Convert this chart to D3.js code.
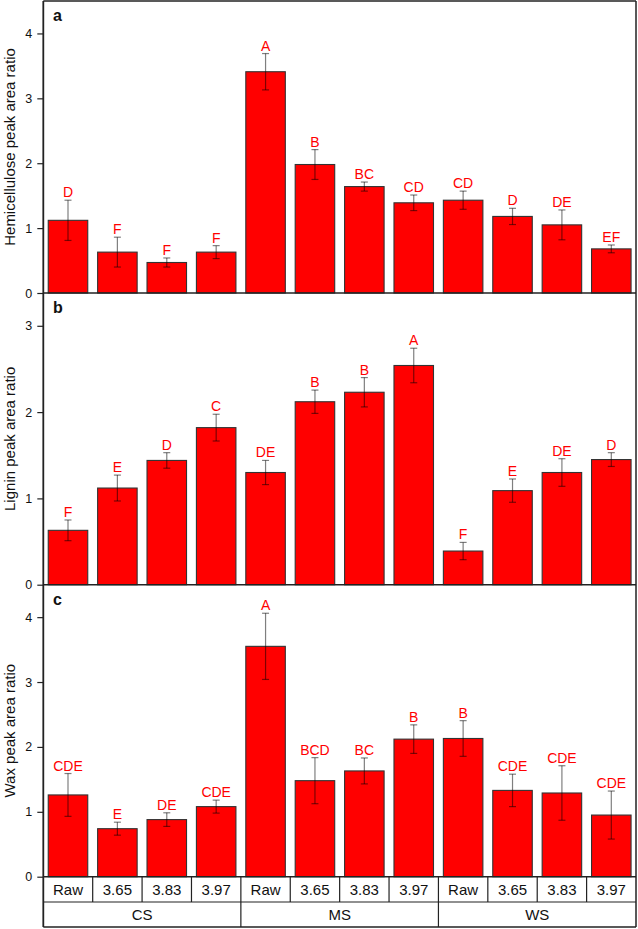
<!DOCTYPE html>
<html><head><meta charset="utf-8">
<script src="https://cdn.jsdelivr.net/npm/d3@7"></script>
<style>html,body{margin:0;padding:0;background:#fff;}svg{display:block;font-family:"Liberation Sans",Arial,sans-serif;}</style>
</head><body><svg id="c" width="638" height="929"></svg>
<script>
const categories = ["Raw","3.65","3.83","3.97","Raw","3.65","3.83","3.97","Raw","3.65","3.83","3.97"];
const groups = ["CS","MS","WS"];

const hemi = [1.12,0.63,0.47,0.63,3.41,1.98,1.64,1.39,1.43,1.18,1.05,0.68];
const hemiErr = [0.31,0.23,0.07,0.10,0.28,0.23,0.07,0.12,0.14,0.125,0.23,0.06];
const hemiLetters = ["D","F","F","F","A","B","BC","CD","CD","D","DE","EF"];

const lignin = [0.63,1.12,1.44,1.82,1.30,2.12,2.23,2.54,0.39,1.09,1.30,1.45];
const ligninErr = [0.12,0.15,0.09,0.155,0.14,0.135,0.17,0.20,0.10,0.135,0.16,0.08];
const ligninLetters = ["F","E","D","C","DE","B","B","A","F","E","DE","D"];

const wax = [1.26,0.74,0.88,1.08,3.55,1.48,1.63,2.12,2.13,1.33,1.29,0.95];
const waxErr = [0.33,0.10,0.105,0.10,0.51,0.355,0.20,0.22,0.275,0.25,0.42,0.37];
const waxLetters = ["CDE","E","DE","CDE","A","BCD","BC","B","B","CDE","CDE","CDE"];

const panels = [
  {tag:"a", title:"Hemicellulose peak area ratio", vals:hemi, err:hemiErr, letters:hemiLetters, max:4.5, ticks:[0,1,2,3,4], top:1, bottom:293},
  {tag:"b", title:"Lignin peak area ratio", vals:lignin, err:ligninErr, letters:ligninLetters, max:3.38, ticks:[0,1,2,3], top:293, bottom:584.7},
  {tag:"c", title:"Wax peak area ratio", vals:wax, err:waxErr, letters:waxLetters, max:4.5, ticks:[0,1,2,3,4], top:584.7, bottom:876.7}
];

const svg = d3.select("#c");
const L = 43.3, R = 636;
const idx = d3.range(categories.length);
const x = d3.scaleBand().domain(idx).range([L,R]).paddingInner(0.2).paddingOuter(0.1);
const xc = d3.scaleBand().domain(idx).range([L,R]).padding(0);
const xg = d3.scaleBand().domain(groups).range([L,R]).padding(0);
const stroke = "#222";

panels.forEach(p => {
  const y = d3.scaleLinear().domain([0,p.max]).range([p.bottom,p.top]);
  const g = svg.append("g");
  g.selectAll("rect.bar").data(p.vals).join("rect")
    .attr("x",(d,i)=>x(i)).attr("width",x.bandwidth())
    .attr("y",d=>y(d)).attr("height",d=>y(0)-y(d))
    .attr("fill","#ff0000").attr("stroke","#333").attr("stroke-width",1.1);
  const eb = g.selectAll("g.err").data(p.vals).join("g")
    .attr("stroke","#000").attr("stroke-opacity",0.5).attr("stroke-width",1.2);
  eb.append("line").attr("x1",(d,i)=>x(i)+x.bandwidth()/2).attr("x2",(d,i)=>x(i)+x.bandwidth()/2)
    .attr("y1",(d,i)=>y(d+p.err[i])).attr("y2",(d,i)=>y(d-p.err[i]));
  eb.append("line").attr("x1",(d,i)=>x(i)+x.bandwidth()/2-3.5).attr("x2",(d,i)=>x(i)+x.bandwidth()/2+3.5)
    .attr("y1",(d,i)=>y(d+p.err[i])).attr("y2",(d,i)=>y(d+p.err[i]));
  eb.append("line").attr("x1",(d,i)=>x(i)+x.bandwidth()/2-3.5).attr("x2",(d,i)=>x(i)+x.bandwidth()/2+3.5)
    .attr("y1",(d,i)=>y(d-p.err[i])).attr("y2",(d,i)=>y(d-p.err[i]));
  g.selectAll("text.let").data(p.letters).join("text")
    .attr("x",(d,i)=>x(i)+x.bandwidth()/2).attr("y",(d,i)=>y(p.vals[i]+p.err[i])-3)
    .attr("text-anchor","middle").attr("font-size",14).attr("fill","#ff0000").text(d=>d);
  const ax = g.append("g").attr("transform",`translate(${L},0)`)
    .call(d3.axisLeft(y).tickValues(p.ticks).tickFormat(d3.format("d")).tickSize(6).tickPadding(5));
  ax.select(".domain").remove();
  ax.selectAll("line").attr("stroke",stroke).attr("stroke-width",1.2);
  ax.selectAll("text").attr("font-size",12.5).attr("fill","#111").attr("font-family","Liberation Sans, Arial, sans-serif");
  g.append("text").attr("transform",`translate(15,${(p.top+p.bottom)/2}) rotate(-90)`)
    .attr("text-anchor","middle").attr("font-size",15).attr("fill","#111").text(p.title);
  g.append("text").attr("x",53).attr("y",p.top+20).attr("font-size",16).attr("font-weight","bold").attr("fill","#111").text(p.tag);
  g.append("line").attr("x1",L).attr("x2",R).attr("y1",p.bottom).attr("y2",p.bottom).attr("stroke",stroke).attr("stroke-width",1.5);
});

// category rows
const r1 = 876.7, r2 = 902, r3 = 927;
svg.append("line").attr("x1",L).attr("x2",R).attr("y1",r2).attr("y2",r2).attr("stroke",stroke).attr("stroke-width",1.2);
svg.append("line").attr("x1",L).attr("x2",R).attr("y1",r3).attr("y2",r3).attr("stroke",stroke).attr("stroke-width",1.5);
svg.selectAll("line.csep").data(idx.slice(1)).join("line")
  .attr("x1",d=>xc(d)).attr("x2",d=>xc(d)).attr("y1",r1).attr("y2",r2).attr("stroke",stroke).attr("stroke-width",1.2);
svg.selectAll("line.gsep").data(groups.slice(1)).join("line")
  .attr("x1",d=>xg(d)).attr("x2",d=>xg(d)).attr("y1",r2).attr("y2",r3).attr("stroke",stroke).attr("stroke-width",1.2);
svg.selectAll("text.cat").data(categories).join("text")
  .attr("x",(d,i)=>xc(i)+xc.bandwidth()/2).attr("y",r1+18.5).attr("text-anchor","middle")
  .attr("font-size",15).attr("fill","#111").text(d=>d);
svg.selectAll("text.grp").data(groups).join("text")
  .attr("x",d=>xg(d)+xg.bandwidth()/2).attr("y",r2+18).attr("text-anchor","middle")
  .attr("font-size",15).attr("fill","#111").text(d=>d);

// frame
svg.append("line").attr("x1",L).attr("x2",L).attr("y1",1).attr("y2",r3).attr("stroke",stroke).attr("stroke-width",1.8);
svg.append("line").attr("x1",R).attr("x2",R).attr("y1",1).attr("y2",r3).attr("stroke",stroke).attr("stroke-width",1.5);
svg.append("line").attr("x1",L).attr("x2",R).attr("y1",1).attr("y2",1).attr("stroke",stroke).attr("stroke-width",1.5);
</script></body></html>
